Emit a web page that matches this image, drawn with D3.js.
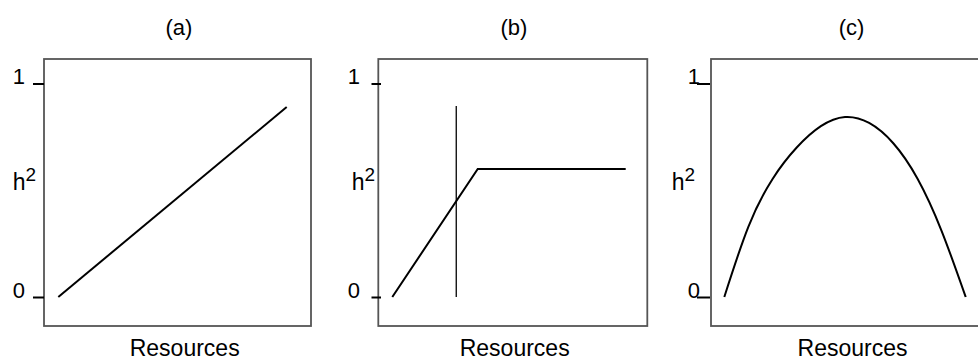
<!DOCTYPE html>
<html>
<head>
<meta charset="utf-8">
<script src="https://cdn.jsdelivr.net/npm/d3@7"></script>
<style>
  body { margin: 0; background: #fff; }
  text { font-family: "Liberation Sans", Arial, sans-serif; fill: #000; }
</style>
</head>
<body>
<div id="chart"></div>
<script>
// values (x: resources 0..10, y: h2 0..1)
var titles = ["(a)", "(b)", "(c)"];
var yTicks = [0, 1];
var xLabel = "Resources";

var linearX = [0, 10];
var linearY = [0, 0.89];

var plateauX = [0, 3.66, 10];
var plateauY = [0, 0.6, 0.6];
var thresholdX = [2.74, 2.74];
var thresholdY = [0, 0.895];

var humpX = [0, 1, 2, 3, 4, 5, 6, 7, 8, 9, 10];
var humpY = [0, 0.33, 0.553, 0.70, 0.80, 0.843, 0.815, 0.72, 0.555, 0.31, 0];

var width = 978, height = 360;
var boxTop = 59, boxBottom = 326;

// layout per panel
var panels = [
    {box: 44,    w: 267, range: [58.3, 286.7],  axisX: 44,  tick: 11,  pad: 8,    hEnd: 36,  titleX: 179,   labelX: 184.7},
    {box: 378.3, w: 269, range: [392.3, 625.7], axisX: 381, tick: 9.5, pad: 11.5, hEnd: 375, titleX: 514,   labelX: 514.7},
    {box: 711,   w: 268, range: [724.3, 965.7], axisX: 710, tick: 13,  pad: -3,   hEnd: 695, titleX: 851.5, labelX: 852.5}
];

var series = [
    [{x: linearX, y: linearY, w: 2, curve: d3.curveLinear}],
    [{x: plateauX, y: plateauY, w: 2, curve: d3.curveLinear},
     {x: thresholdX, y: thresholdY, w: 1.3, curve: d3.curveLinear}],
    [{x: humpX, y: humpY, w: 2, curve: d3.curveNatural}]
];

var svg = d3.select("#chart")
    .append("svg")
    .attr("width", width)
    .attr("height", height);

var yScale = d3.scaleLinear()
    .domain([0, 1])
    .range([297, 83.5]);

panels.forEach(function(p, i) {
    var g = svg.append("g");

    var xScale = d3.scaleLinear()
        .domain([0, 10])
        .range(p.range);

    // frame
    g.append("rect")
        .attr("x", p.box)
        .attr("y", boxTop)
        .attr("width", p.w)
        .attr("height", boxBottom - boxTop)
        .attr("fill", "none")
        .attr("stroke", "#555")
        .attr("stroke-width", 1.8);

    // y axis: just the 0 and 1 ticks
    var yAxis = g.append("g")
        .attr("transform", `translate(${p.axisX}, 0)`)
        .call(d3.axisLeft(yScale).tickValues(yTicks).tickSize(p.tick).tickPadding(p.pad).tickFormat(d3.format("d")));
    yAxis.select(".domain").remove();
    yAxis.selectAll("line").attr("stroke", "#000").attr("stroke-width", 2);
    yAxis.selectAll("text")
        .attr("dy", 0)
        .style("font-size", "22px")
        .style("font-family", "Liberation Sans, Arial, sans-serif");

    // h2 label
    var h = g.append("text")
        .attr("x", p.hEnd)
        .attr("y", 189.5)
        .attr("text-anchor", "end")
        .style("font-size", "23px");
    h.append("tspan").text("h");
    h.append("tspan").attr("dy", -9).style("font-size", "19px").text("2");

    g.append("text")
        .attr("x", p.titleX)
        .attr("y", 35)
        .attr("text-anchor", "middle")
        .style("font-size", "22px")
        .text(titles[i]);

    g.append("text")
        .attr("x", p.labelX)
        .attr("y", 356)
        .attr("text-anchor", "middle")
        .style("font-size", "23px")
        .text(xLabel);

    series[i].forEach(function(s) {
        var pts = s.x.map(function(d, j) { return [d, s.y[j]]; });
        var line = d3.line()
            .x(function(d) { return xScale(d[0]); })
            .y(function(d) { return yScale(d[1]); })
            .curve(s.curve);
        g.append("path")
            .datum(pts)
            .attr("d", line)
            .attr("fill", "none")
            .attr("stroke", "#000")
            .attr("stroke-width", s.w);
    });
});
</script>
</body>
</html>
